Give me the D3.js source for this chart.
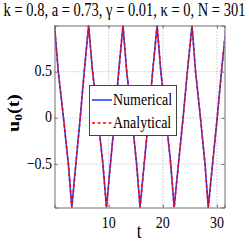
<!DOCTYPE html>
<html><head><meta charset="utf-8">
<script src="https://cdn.jsdelivr.net/npm/d3@7"></script>
<style>html,body{margin:0;padding:0;background:#fff;}svg{display:block;}
svg text{font-family:"Liberation Serif","Times New Roman",Times,serif;}</style>
</head><body>
<script>
// ---- data ----
const tValues = [0, 0.70, 1.66, 2.56, 3.2, 3.94, 4.75, 5.49,
  6.3, 7.03, 8.02, 8.94, 9.6, 10.33, 11.13, 11.86,
  12.65, 13.34, 14.29, 15.17, 15.8, 16.56, 17.38, 18.13,
  18.95, 19.64, 20.59, 21.47, 22.1, 22.89, 23.75, 24.54,
  25.4, 26.06, 26.96, 27.80, 28.4, 29.19, 30.05, 30.84, 31.7];
const uNumerical = [1, 0.5, 0, -0.5, -0.97, -0.5, 0, 0.5,
  1, 0.5, 0, -0.5, -0.97, -0.5, 0, 0.5,
  1, 0.5, 0, -0.5, -0.97, -0.5, 0, 0.5,
  1, 0.5, 0, -0.5, -0.97, -0.5, 0, 0.5,
  1, 0.5, 0, -0.5, -0.97, -0.5, 0, 0.5, 1];
const uAnalytical = [1, 0.5, 0, -0.5, -0.97, -0.5, 0, 0.5,
  1, 0.5, 0, -0.5, -0.97, -0.5, 0, 0.5,
  1, 0.5, 0, -0.5, -0.97, -0.5, 0, 0.5,
  1, 0.5, 0, -0.5, -0.97, -0.5, 0, 0.5,
  1, 0.5, 0, -0.5, -0.97, -0.5, 0, 0.5, 1];
const xTicks = [10, 20, 30];
const yTicks = [-0.5, 0, 0.5];
const yTickLabels = ["\u22120.5", "0", "0.5"];
const seriesNames = ["Numerical", "Analytical"];
const titleText = "k = 0.8, a = 0.73, \u03b3 = 0.01, \u03ba = 0, N = 301";

// ---- layout ----
const W = 249, H = 249;
const L = 54.5, R = 224.5, T = 25.5, B = 207.5;
const SY = 1.25;

const svg = d3.select("body").append("svg").attr("width", W).attr("height", H);
const x = d3.scaleLinear().domain([0, 31.4]).range([L, R]);
const y = d3.scaleLinear().domain([-0.97, 1.0]).range([B, T]);

function stext(g, tx, ty, str, size, anchor) {
  return g.append("text")
    .attr("transform", `translate(${tx},${ty}) scale(1,${SY})`)
    .attr("font-size", size)
    .attr("text-anchor", anchor).attr("fill", "#000").text(str);
}

// grid
const grid = svg.append("g");
grid.selectAll("line.gx").data(xTicks).join("line")
  .attr("x1", d => x(d)).attr("x2", d => x(d)).attr("y1", T).attr("y2", B)
  .attr("stroke", "#b0b0b0").attr("stroke-width", 1).attr("stroke-dasharray", "1,2");
grid.selectAll("line.gy").data(yTicks).join("line")
  .attr("x1", L).attr("x2", R).attr("y1", d => y(d)).attr("y2", d => y(d))
  .attr("stroke", "#b0b0b0").attr("stroke-width", 1).attr("stroke-dasharray", "1,2");

// lines
svg.append("clipPath").attr("id", "clip").append("rect")
  .attr("x", L).attr("y", T - 2).attr("width", R - L).attr("height", B - T + 4);
const line = d3.line().x(d => x(d[0])).y(d => y(d[1]));
const plot = svg.append("g").attr("clip-path", "url(#clip)");
plot.append("path").datum(tValues.map((t, i) => [t, uNumerical[i]]))
  .attr("d", line).attr("fill", "none").attr("stroke", "#2a45ff").attr("stroke-width", 1.6);
plot.append("path").datum(tValues.map((t, i) => [t, uAnalytical[i]]))
  .attr("d", line).attr("fill", "none").attr("stroke", "#ff0000").attr("stroke-width", 1.6)
  .attr("stroke-dasharray", "3,2.5");

// axes (box with inward ticks)
const ax = svg.append("g");
const axB = d3.axisBottom(x).tickValues(xTicks).tickSize(-3).tickFormat("");
const axT = d3.axisTop(x).tickValues(xTicks).tickSize(-3).tickFormat("");
const axL = d3.axisLeft(y).tickValues(yTicks).tickSize(-3).tickFormat("");
const axR = d3.axisRight(y).tickValues(yTicks).tickSize(-3).tickFormat("");
[[axB, `translate(0,${B})`], [axT, `translate(0,${T})`], [axL, `translate(${L},0)`], [axR, `translate(${R},0)`]]
  .forEach(([a, tr]) => {
    const g = ax.append("g").attr("transform", tr).call(a);
    g.select(".domain").attr("stroke", "#6e6e6e");
    g.selectAll(".tick line").attr("stroke", "#6e6e6e");
  });

// tick labels
xTicks.forEach(v => stext(svg, x(v), 228, String(v), 14, "middle"));
yTicks.forEach((v, i) => stext(svg, 52, y(v) + 4.5, yTickLabels[i], 14, "end"));

// axis labels
stext(svg, 139, 238, "t", 17, "middle");
const yl = svg.append("text")
  .attr("transform", `translate(19,113) scale(1,${SY}) rotate(-90)`)
  .attr("font-size", 16).attr("font-weight", "bold")
  .attr("text-anchor", "middle").attr("fill", "#000");
yl.append("tspan").text("u");
yl.append("tspan").attr("font-size", 11).attr("dy", 3).text("0");
yl.append("tspan").attr("dy", -3).text("(t)");

// title
stext(svg, 124.5, 16, titleText, 14.5, "middle");

// legend
const lg = svg.append("g");
lg.append("rect").attr("x", 89.5).attr("y", 85.5).attr("width", 87).attr("height", 50)
  .attr("fill", "#fff").attr("stroke", "#444").attr("stroke-width", 1);
const rows = [100, 123];
const styles = [{c: "#2a45ff", d: null}, {c: "#ff0000", d: "3,2.5"}];
seriesNames.forEach((n, i) => {
  const l = lg.append("line").attr("x1", 92).attr("x2", 112).attr("y1", rows[i]).attr("y2", rows[i])
    .attr("stroke", styles[i].c).attr("stroke-width", 1.6);
  if (styles[i].d) l.attr("stroke-dasharray", styles[i].d);
  stext(lg, 113, rows[i] + 4.5, n, 14, "start");
});
</script>
</body></html>
